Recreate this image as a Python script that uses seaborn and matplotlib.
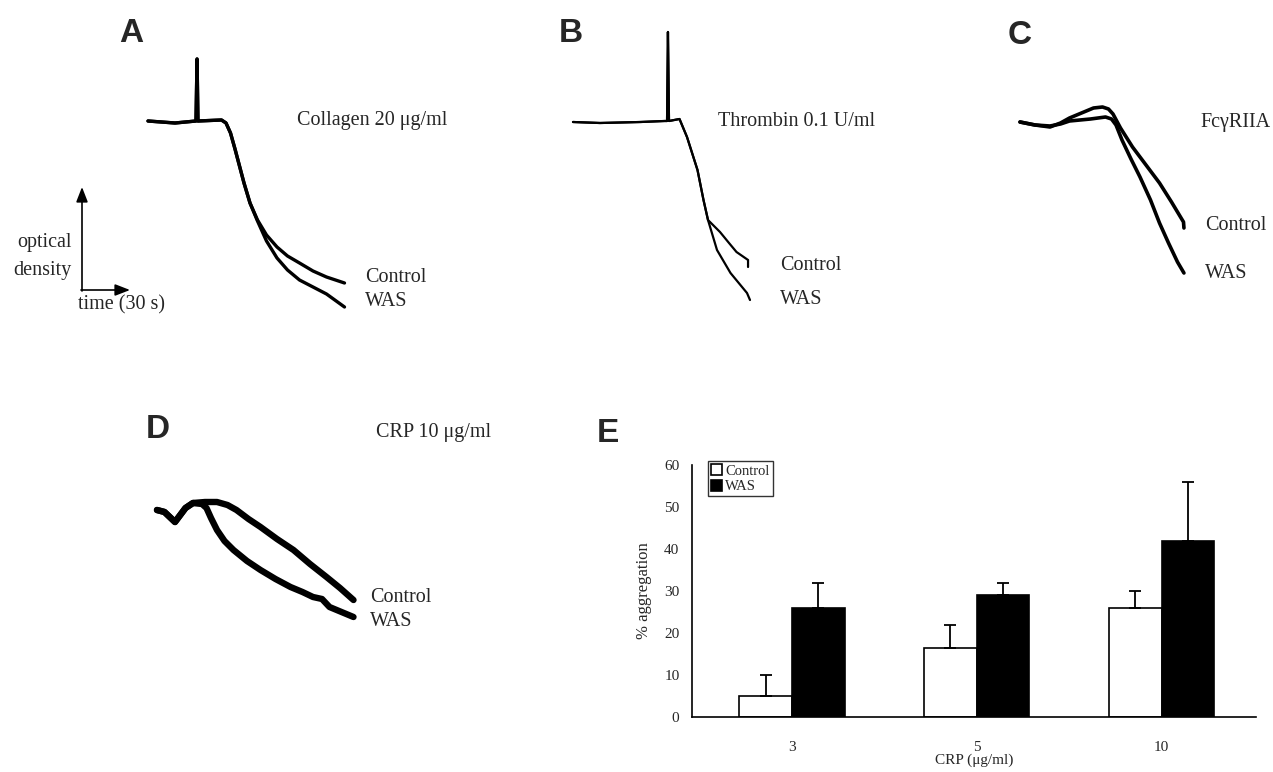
import matplotlib
matplotlib.use("Agg")
import matplotlib.pyplot as plt
import seaborn as sns
import pandas as pd

# ---- aggregation traces: time (s) and signal (arbitrary units, 0 = baseline) ----
a_ctrl_t = [0, 18, 32, 32.7, 33.3, 49, 52, 55, 58, 61, 64, 68, 73, 79, 86, 93, 101, 110, 119, 131]
a_ctrl_y = [0, -2, 0, 62, 0, 1, -2, -12, -28, -45, -62, -82, -99, -114, -126, -135, -142, -150, -156, -162]
a_was_t = [0, 18, 32, 32.7, 33.3, 49, 52, 55, 58, 61, 64, 68, 73, 79, 86, 93, 101, 110, 119, 131]
a_was_y = [0, -2, 0, 62, 0, 1, -2, -12, -28, -45, -62, -82, -100, -120, -137, -149, -159, -166, -173, -186]

b_ctrl_t = [0, 18, 45, 61, 62.7, 63.3, 64, 71, 76, 83, 87, 90, 94, 98, 104, 109, 116.7, 116.7]
b_ctrl_y = [0, -1, 0, 1, 1, 90, 1, 3, -15, -48, -78, -98, -104, -110, -121, -130, -138, -145]
b_was_t = [0, 18, 45, 61, 62.7, 63.3, 64, 71, 76, 83, 87, 90, 96, 105, 116, 118]
b_was_y = [0, -1, 0, 1, 1, 90, 1, 3, -15, -48, -78, -98, -128, -151, -171, -178]

c_ctrl_t = [0, 10, 20, 27, 33, 41, 49, 55, 59, 62, 67, 75, 84, 93, 101, 109, 109.3]
c_ctrl_y = [0, -3, -5, -1, 4, 9, 14, 15, 13, 8, -6, -25, -43, -61, -80, -100, -106]
c_was_t = [0, 10, 20, 27, 33, 40, 47, 57, 61, 64, 68, 74, 80, 87, 93, 99, 105, 109.3]
c_was_y = [0, -3, -4, -2, 1, 2, 3, 5, 3, -3, -18, -37, -55, -78, -101, -121, -140, -151]

d_ctrl_t = [0, 5, 12, 19, 24, 32, 40, 47, 53, 61, 69, 80, 91, 102, 113, 122, 131]
d_ctrl_y = [0, -2, -12, 2, 7, 8, 8, 5, 0, -9, -17, -29, -40, -54, -67, -78, -90]
d_was_t = [0, 5, 12, 19, 24, 30, 33, 36, 40, 45, 51, 60, 69, 79, 89, 97, 104, 110, 115, 123, 131]
d_was_y = [0, -2, -12, 2, 7, 6, 2, -8, -20, -31, -40, -51, -60, -69, -77, -82, -87, -89, -97, -102, -107]

# ---- panel E: % aggregation to CRP ----
doses = ["3", "5", "10"]
control_mean = [5, 16.5, 26]
control_err = [5, 5.5, 4]
was_mean = [26, 29, 42]
was_err = [6, 3, 14]

W, H = 1273, 772
PX_PER_S = 1.5

sns.set_style("white")
plt.rcParams["font.family"] = ["Liberation Serif", "DejaVu Serif"]

fig = plt.figure(figsize=(W / 100, H / 100), dpi=100)

# overlay in figure pixels for labels / scale bar
ov = fig.add_axes([0, 0, 1, 1])
ov.set_xlim(0, W)
ov.set_ylim(H, 0)
ov.axis("off")


def trace_panel(x0, base, traces, lw):
    left, right = x0 - 10, x0 + 210
    top, bottom = base - 100, base + 200
    ax = fig.add_axes([left / W, 1 - bottom / H, (right - left) / W, (bottom - top) / H])
    for t, y in traces:
        sns.lineplot(x=t, y=y, ax=ax, color="black", lw=lw, sort=False, estimator=None)
    ax.set_xlim(-10 / PX_PER_S, 210 / PX_PER_S)
    ax.set_ylim(-200, 100)
    ax.axis("off")
    return ax


trace_panel(148, 121, [(a_ctrl_t, a_ctrl_y), (a_was_t, a_was_y)], 2.4)
trace_panel(573, 122, [(b_ctrl_t, b_ctrl_y), (b_was_t, b_was_y)], 1.6)
trace_panel(1020, 122, [(c_ctrl_t, c_ctrl_y), (c_was_t, c_was_y)], 2.6)
trace_panel(157, 510, [(d_ctrl_t, d_ctrl_y), (d_was_t, d_was_y)], 4.6)

# panel letters
for letter, x, y in [("A", 131, 34), ("B", 571, 34), ("C", 1020, 36), ("D", 158, 430), ("E", 608, 433)]:
    ov.text(x, y, letter, fontsize=24, fontweight="bold", family="Liberation Sans",
            ha="center", va="center")

lab = dict(fontsize=14.5, va="center", ha="left")
ov.text(297, 121, "Collagen 20 \u03bcg/ml", **lab)
ov.text(365, 278, "Control", **lab)
ov.text(365, 301, "WAS", **lab)
ov.text(718, 122, "Thrombin 0.1 U/ml", **lab)
ov.text(780, 265, "Control", **lab)
ov.text(780, 300, "WAS", **lab)
ov.text(1200, 122, "Fc\u03b3RIIA", **lab)
ov.text(1205, 225, "Control", **lab)
ov.text(1205, 273, "WAS", **lab)
ov.text(376, 433, "CRP 10 \u03bcg/ml", **lab)
ov.text(370, 597, "Control", **lab)
ov.text(370, 622, "WAS", **lab)

# scale bar
arrow = dict(arrowstyle="-|>,head_length=0.9,head_width=0.35", color="black", lw=1.2,
             shrinkA=0, shrinkB=0)
ov.annotate("", xy=(82, 187), xytext=(82, 291), arrowprops=arrow)
ov.annotate("", xy=(130, 290), xytext=(81, 290), arrowprops=arrow)
ov.text(72, 243, "optical", fontsize=14.5, ha="right", va="center")
ov.text(72, 270, "density", fontsize=14.5, ha="right", va="center")
ov.text(78, 305, "time (30 s)", fontsize=14.5, ha="left", va="center")

# ---- panel E bar chart ----
df = pd.DataFrame({
    "dose": doses * 2,
    "group": ["Control"] * 3 + ["WAS"] * 3,
    "value": control_mean + was_mean,
})
e_left, e_right, e_top, e_bottom = 692, 1256, 465, 717
axE = fig.add_axes([e_left / W, 1 - e_bottom / H, (e_right - e_left) / W, (e_bottom - e_top) / H])
sns.barplot(data=df, x="dose", y="value", hue="group", order=doses,
            palette={"Control": "white", "WAS": "black"}, edgecolor="black",
            linewidth=1.2, width=0.57, errorbar=None, ax=axE)
for cont, errs in zip(axE.containers, [control_err, was_err]):
    for bar, e in zip(cont, errs):
        xc = bar.get_x() + bar.get_width() / 2
        axE.errorbar(xc, bar.get_height(), yerr=[[0], [e]], fmt="none", ecolor="black",
                     elinewidth=1.3, capsize=4.5, capthick=1.3)
axE.set_xlim(-0.54, 2.51)
axE.set_ylim(0, 60)
axE.set_yticks(range(0, 61, 10))
axE.tick_params(axis="y", direction="out", length=4, width=1, labelsize=11, pad=5)
axE.tick_params(axis="x", length=0, labelsize=11, pad=17)
axE.set_xlabel("CRP (\u03bcg/ml)", fontsize=11, labelpad=0)
axE.set_ylabel("% aggregation", fontsize=12, labelpad=9)
sns.despine(ax=axE)
for s in ["left", "bottom"]:
    axE.spines[s].set_linewidth(1.2)
    axE.spines[s].set_color("black")
axE.patch.set_alpha(0)
handles, labels = axE.get_legend_handles_labels()
leg = axE.legend(handles, labels, loc="upper left", bbox_to_anchor=(0.028, 1.016),
                 frameon=True, fancybox=False, edgecolor="black", fontsize=10.5,
                 handlelength=0.8, handleheight=0.8, handletextpad=0.2,
                 borderpad=0.2, labelspacing=0.15, borderaxespad=0)
leg.get_frame().set_linewidth(1.0)

fig.savefig("out.png", dpi=100)
